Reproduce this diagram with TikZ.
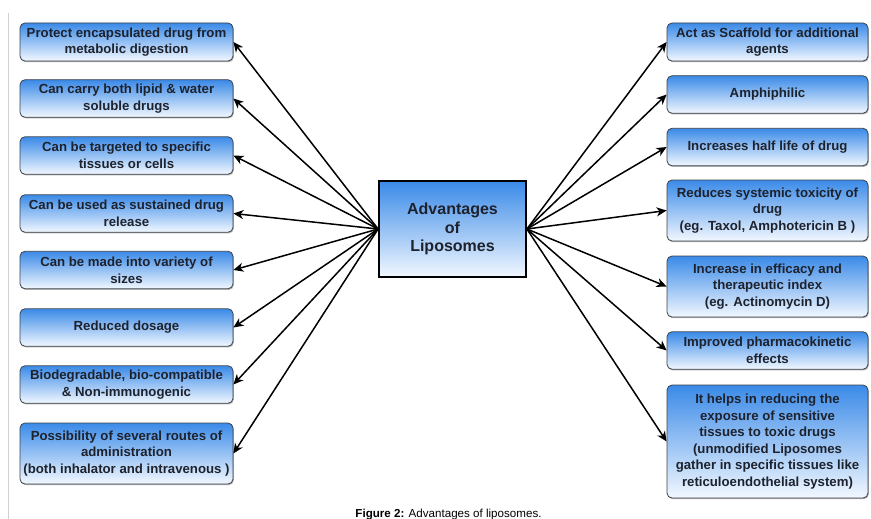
\documentclass[tikz,border=0pt]{standalone}
\usepackage{fontspec}
\setmainfont{Liberation Sans}
\usetikzlibrary{arrows.meta,shadows}
\definecolor{btop}{RGB}{58,138,232}
\definecolor{bbot}{RGB}{242,248,255}
\definecolor{txt}{RGB}{30,34,45}
\definecolor{edge}{RGB}{60,66,75}
\tikzset{
  adv/.style={draw=edge, line width=0.8pt, rounded corners=5pt,
    top color=btop, bottom color=bbot, text=txt, align=center, inner sep=0pt,
    font=\fontsize{13.2}{16.6}\selectfont\bfseries,
    drop shadow={shadow xshift=0.8pt, shadow yshift=-1.2pt, opacity=0.3, fill=black}},
  lbox/.style={adv, minimum width=213pt},
  rbox/.style={adv, minimum width=201pt},
  hub/.style={draw=black, line width=1.8pt, top color=btop, bottom color=bbot,
    text=txt, align=center, inner sep=0pt, minimum width=147pt, minimum height=96pt,
    font=\fontsize{16}{18.5}\selectfont\bfseries},
  arr/.style={line width=1.5pt, black, -{Stealth[length=10pt,width=9pt,inset=3pt]}},
}
\begin{document}
\begin{tikzpicture}[x=1pt,y=-1pt]
\useasboundingbox (0,0) rectangle (871,519);
\draw[black!18, line width=0.8pt] (8,13) -- (8,519);

\node[hub] (C) at (452.5,229) {Advantages\\of\\Liposomes};

\node[lbox, minimum height=38pt] (L1) at (126.5,42) {Protect encapsulated drug from\\metabolic digestion};
\node[lbox, minimum height=37.5pt] (L2) at (126.5,98.5) {Can carry both lipid \& water\\soluble drugs};
\node[lbox, minimum height=37.5pt] (L3) at (126.5,155.5) {Can be targeted to specific\\tissues or cells};
\node[lbox, minimum height=37.5pt] (L4) at (126.5,213.5) {Can be used as sustained drug\\release};
\node[lbox, minimum height=37.5pt] (L5) at (126.5,270) {Can be made into variety of\\sizes};
\node[lbox, minimum height=37.5pt] (L6) at (126.5,327.5) {Reduced dosage};
\node[lbox, minimum height=37.5pt] (L7) at (126.5,384.5) {Biodegradable, bio-compatible\\\& Non-immunogenic};
\node[lbox, minimum height=61pt] (L8) at (126.5,453.5) {Possibility of several routes of\\administration\\(both inhalator and intravenous )};

\node[rbox, minimum height=38pt] (R1) at (767.5,42) {Act as Scaffold for additional\\agents};
\node[rbox, minimum height=37.5pt] (R2) at (767.5,94.5) {Amphiphilic};
\node[rbox, minimum height=37.5pt] (R3) at (767.5,147) {Increases half life of drug};
\node[rbox, minimum height=61pt] (R4) at (767.5,210.5) {Reduces systemic toxicity of\\drug\\(eg. Taxol, Amphotericin B )};
\node[rbox, minimum height=61pt] (R5) at (767.5,286.5) {Increase in efficacy and\\therapeutic index\\(eg. Actinomycin D)};
\node[rbox, minimum height=37.5pt] (R6) at (767.5,350.5) {Improved pharmacokinetic\\effects};
\node[rbox, minimum height=113pt] (R7) at (767.5,441.5) {It helps in reducing the\\exposure of sensitive\\tissues to toxic drugs\\(unmodified Liposomes\\gather in specific tissues like\\reticuloendothelial system)};

\foreach \n in {L1,L2,L3,L4,L5,L6,L7,L8} \draw[arr] (C.west) -- (\n.east);
\foreach \n in {R1,R2,R3,R4,R5,R6,R7} \draw[arr] (C.east) -- (\n.west);

\node[anchor=base, inner sep=0pt, text=black, font=\fontsize{11.6}{13}\selectfont] (cap) at (448.5,517) {\textbf{Figure 2:} Advantages of liposomes.};
\end{tikzpicture}
\end{document}
